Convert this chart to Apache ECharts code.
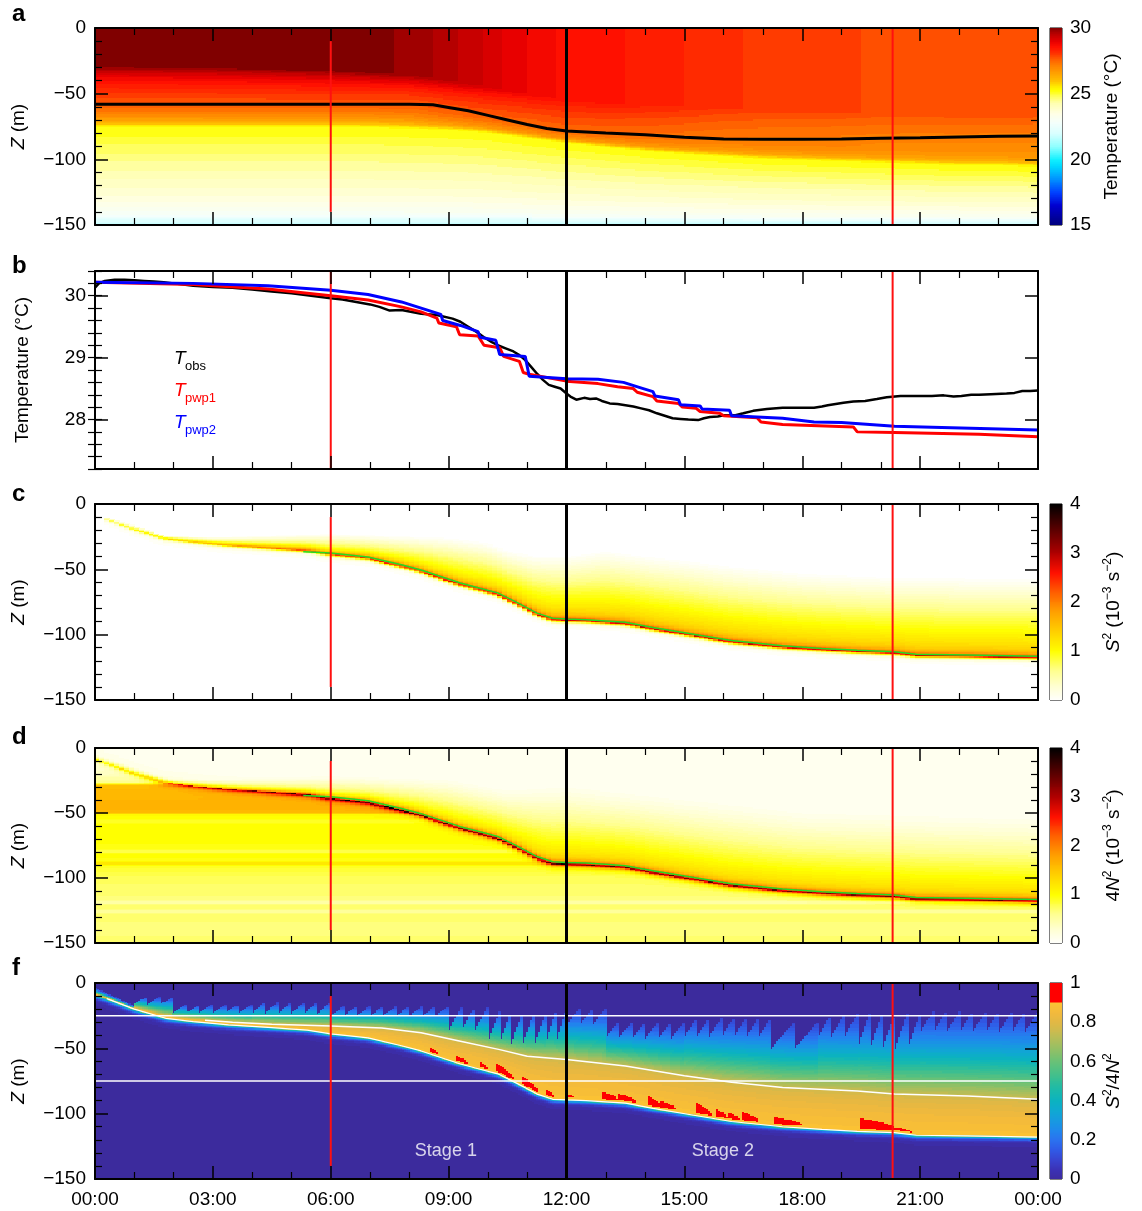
<!DOCTYPE html>
<html><head><meta charset="utf-8"><title>Ocean mixing panels</title>
<script src="https://cdn.jsdelivr.net/npm/echarts@6.0.0/dist/echarts.min.js"></script>
<style>html,body{margin:0;padding:0;background:#fff;}#chart{width:1142px;height:1211px;}</style>
</head><body><div id="chart"></div>
<script>
// ---------------- DATA ----------------
const hourLabels = ['00:00','03:00','06:00','09:00','12:00','15:00','18:00','21:00','00:00'];
const eventHours = [6, 12, 20.3];          // red, black, red vertical markers
const earlyLineSpan = [-10, -140];          // depth span of the 06:00 marker in the depth panels
const refDepths = [-25, -75];               // white reference depths in panel f

// panel a : mixed-layer depth (black line)
const mldLine = [[0,-58],[2,-58],[4,-58],[6,-58],[8,-58],[8.6,-58.5],[9,-60.5],[9.5,-63],[10,-66.5],[10.5,-70],[11,-73.5],[11.5,-76.5],[12,-78.5],[13,-80],[14,-81.3],[15,-83.2],[16,-84.5],[17,-84.8],[18,-84.8],[19,-84.5],[20,-84],[21,-83.6],[22,-83],[23,-82.5],[24,-82.2]];
// panel a : temperature structure
const fieldHours = [0,3,6,7,8,9,10,11,12,13,14,15,16,17,18,19,20,21,22,23,24];
const upperTemp  = [30.22,30.2,30.1,30.0,29.85,29.6,29.25,28.9,28.62,28.55,28.45,28.3,28.15,28.05,28.0,27.95,27.85,27.8,27.78,27.75,27.72];
const upperBase  = [-28,-29,-32,-34,-36,-40,-45,-50,-55,-57,-58,-60,-61,-62,-63,-64,-65,-66,-67,-68,-68];
const yellowTop  = [-76,-76,-76,-76,-77,-78,-80,-84,-88,-91,-94,-96,-98,-100,-101,-102,-103,-104,-105,-105,-106];
const gradFrac       = [0,0.1,0.2,0.3,0.4,0.5,0.6,0.7,0.8,0.9,1];
const gradShapeEarly = [1,0.86,0.74,0.66,0.6,0.55,0.5,0.44,0.36,0.24,0];
const gradShapeLate  = [1,0.93,0.88,0.83,0.79,0.75,0.71,0.68,0.6,0.45,0];
const deepDepth = [-75,-85,-95,-105,-115,-125,-135,-142,-146,-150];
const deepTemp  = [25.3,25.0,24.7,24.4,24.1,23.8,23.4,23.0,22.3,21.8];

// panel b : temperatures
const tObs = [[0,30.13],[0.1,30.2],[0.25,30.24],[0.5,30.26],[0.75,30.26],[1,30.25],[1.25,30.24],[1.5,30.23],[1.75,30.22],[2,30.2],[2.25,30.18],[2.5,30.16],[3,30.14],[3.5,30.13],[4,30.1],[4.5,30.07],[5,30.04],[5.5,30.0],[6,29.96],[6.3,29.94],[6.65,29.9],[7,29.86],[7.24,29.82],[7.5,29.76],[7.8,29.77],[8.3,29.71],[8.7,29.69],[9.1,29.63],[9.3,29.58],[9.5,29.5],[9.7,29.42],[9.9,29.33],[10.1,29.25],[10.25,29.2],[10.45,29.15],[10.65,29.1],[10.8,29.04],[10.95,28.96],[11.1,28.85],[11.25,28.74],[11.4,28.64],[11.55,28.56],[11.7,28.53],[11.85,28.5],[12,28.42],[12.1,28.37],[12.25,28.32],[12.45,28.35],[12.6,28.33],[12.75,28.34],[12.9,28.3],[13.1,28.26],[13.3,28.25],[13.5,28.23],[13.7,28.21],[13.9,28.18],[14.1,28.15],[14.3,28.1],[14.5,28.06],[14.7,28.02],[14.9,28.01],[15.1,28.0],[15.35,27.99],[15.5,28.02],[15.65,28.04],[15.85,28.05],[16,28.07],[16.3,28.07],[16.5,28.1],[16.75,28.14],[17.1,28.17],[17.5,28.19],[17.9,28.19],[18.3,28.19],[18.5,28.21],[18.65,28.23],[19.05,28.27],[19.3,28.29],[19.6,28.3],[19.9,28.33],[20.15,28.36],[20.5,28.38],[20.9,28.38],[21.3,28.38],[21.6,28.39],[21.85,28.37],[22.05,28.38],[22.3,28.4],[22.5,28.4],[22.8,28.41],[23.2,28.42],[23.4,28.43],[23.6,28.46],[23.8,28.46],[24,28.47]];
const tPwp1 = [[0,30.22],[2.5,30.18],[4.4,30.11],[6,30.0],[6.95,29.93],[7.8,29.82],[8.3,29.74],[8.7,29.64],[8.75,29.56],[9.2,29.5],[9.28,29.37],[9.75,29.35],[9.9,29.2],[10.3,29.16],[10.4,29.02],[10.8,28.94],[10.9,28.76],[11.05,28.73],[12,28.62],[12.8,28.58],[13.3,28.53],[13.7,28.5],[13.8,28.44],[14.2,28.37],[14.3,28.3],[14.85,28.26],[14.95,28.2],[15.3,28.18],[15.4,28.13],[15.9,28.1],[16.0,28.06],[16.85,28.03],[16.95,27.96],[17.5,27.92],[19.3,27.88],[19.4,27.8],[20.35,27.79],[22.5,27.76],[22.55,27.73],[24,27.72]];
const tPwp2 = [[0,30.22],[2.5,30.2],[4.4,30.16],[6,30.09],[6.95,30.02],[7.8,29.9],[8.3,29.8],[8.8,29.7],[8.85,29.6],[9.3,29.52],[9.75,29.42],[9.8,29.33],[10.2,29.28],[10.3,29.05],[10.95,29.02],[11.05,28.7],[12,28.66],[12.8,28.65],[13.45,28.6],[13.85,28.52],[14.2,28.45],[14.25,28.38],[14.85,28.32],[14.9,28.24],[15.4,28.22],[15.45,28.17],[16.15,28.15],[16.2,28.06],[17.5,28.02],[18.3,27.96],[19.0,27.95],[19.05,27.92],[20.35,27.89],[21.55,27.87],[21.6,27.84],[24,27.83]];

// panels c, d, f : base of the turbulent layer (peak shear line)
const mixBase = [[0,-9],[0.3,-12],[1,-20],[1.8,-27],[2.5,-29.5],[3.4,-32],[4.4,-34],[5.4,-36],[6,-39],[6.95,-42],[7.8,-48],[8.3,-52],[8.8,-57],[9.3,-62],[9.8,-66],[10.25,-69.5],[10.75,-77],[11.25,-85],[11.65,-89],[12,-89.5],[12.5,-90],[13,-91],[13.5,-92],[14.2,-96],[15.2,-101],[16.2,-106],[17.5,-110],[18.5,-112],[19.4,-113.5],[20.35,-114.5],[20.9,-116.5],[22.2,-117],[24,-118]];
const greenLine = [[5.3,-36.5],[6,-37.5],[6.95,-40.5],[7.8,-46.5],[8.3,-50.5],[8.8,-55.5],[9.3,-60.5],[9.8,-64.5],[10.25,-68],[10.75,-75.5],[11.25,-83.5],[11.65,-87.5],[12,-88],[12.5,-88.5],[13,-89.5],[13.5,-90.5],[14.2,-94.5],[15.2,-99.5],[16.2,-104.5],[17.5,-108.5],[18.5,-110.5],[19.4,-112],[20.35,-113],[20.9,-115],[22.2,-115.5],[24,-116.5]];
// panel c : S^2
const shearTop  = [[0,-8],[0.3,-11],[1,-17],[1.8,-25],[3,-26],[6,-23],[8,-25],[9,-26],[10,-30],[10.5,-36],[11.2,-40],[12,-40],[13,-36],[14,-40],[15,-43],[16,-47],[17,-50],[18,-53],[20.3,-56],[24,-57]];
const shearAmp  = [[0,0.4],[2,0.8],[5,1.2],[8,1.4],[12,1.5],[24,1.5]];
const shearPeak = [[0,0.3],[3,0.8],[6,1.2],[9,1.4],[24,1.4]];
// panel d : 4N^2
const buoyTop  = [[0,-5],[2,-25],[6,-22],[9,-25],[10.5,-33],[12,-30],[15,-40],[18,-50],[24,-55]];
const buoyAmp  = [[0,0.4],[3,0.7],[8,1.2],[12,1.3],[24,1.3]];
const buoyPeak = [[0,0.5],[3,1.1],[6,1.6],[24,1.7]];
const buoyProfile = [[0,0.12],[-10,0.2],[-20,0.35],[-27,0.6],[-29,1.55],[-35,1.6],[-45,1.65],[-50,1.6],[-51.5,1.05],[-55,1.0],[-57,0.85],[-59,1.0],[-70,1.0],[-78,0.95],[-80,0.75],[-82,1.0],[-87,0.95],[-89,1.3],[-91,0.9],[-95,0.85],[-100,0.75],[-110,0.7],[-117,0.65],[-119,0.45],[-121,0.7],[-124,0.7],[-126,0.5],[-128,0.7],[-140,0.65],[-150,0.7]];
// panel f : S^2/4N^2
const ratioTeeth = [ // [start h, end h, teeth, valley depth, tip depth]
  [0,1,1,-4,-18],[1,2,3,-17,-11],[2,4,6,-23,-17],[4,6,6,-24,-15],[6,9,9,-26,-18],[9,10,3,-37,-19],
  [10,11.5,5,-47,-22],[11.5,12,2,-45,-20],[12,13,3,-33,-20],[13,15,6,-43,-30],[15,17.2,7,-42,-27],
  [17.2,18.4,2,-51,-30],[18.4,19.4,3,-42,-24],[19.4,21,5,-51,-23],[21,24,9,-38,-22]];
const ratioContour = [[2.8,-28.5],[3.5,-30],[4.5,-31.5],[6,-33],[7.3,-34.5],[8.3,-38],[9.3,-44.5],[10.3,-51],[11,-56],[12,-58.5],[13.5,-63.5],[15,-71],[16.2,-76],[17.5,-80],[19.4,-82.6],[20.35,-85],[22.2,-86.4],[24,-89]];
const criticalPatches = [[8.55,8.75,3],[9.2,9.5,4],[9.8,10.0,4],[10.2,10.7,6],[10.9,11.3,6],[11.5,11.7,4],[12.0,12.2,3],[12.9,13.3,6],[13.3,13.8,5],[14.1,14.4,7],[14.4,14.8,5],[15.3,15.7,8],[15.8,16.1,6],[16.1,16.4,5],[16.5,16.9,6],[17.3,18.0,5],[19.5,20.4,8],[20.4,20.8,2.5]];
const stageLabels = [{name:'Stage 1', t:8.93, z:-128.5},{name:'Stage 2', t:15.98, z:-128.5}];

// ---------------- helpers ----------------
const FONT = '"Liberation Sans", Arial, Helvetica, sans-serif';
function lin(p, x){
  const n=p.length, asc=p[n-1][0]>=p[0][0];
  if(asc? x<=p[0][0] : x>=p[0][0]) return p[0][1];
  if(asc? x>=p[n-1][0] : x<=p[n-1][0]) return p[n-1][1];
  for(let i=1;i<n;i++){
    const x0=p[i-1][0], x1=p[i][0];
    if(asc? x<=x1 : x>=x1){ const f=(x-x0)/(x1-x0); return p[i-1][1]+f*(p[i][1]-p[i-1][1]); }
  }
  return p[n-1][1];
}
const zip=(a,b)=>a.map((v,i)=>[v,b[i]]);
const upperTempP=zip(fieldHours,upperTemp), upperBaseP=zip(fieldHours,upperBase), yellowTopP=zip(fieldHours,yellowTop);
const shapeEarlyP=zip(gradFrac,gradShapeEarly), shapeLateP=zip(gradFrac,gradShapeLate), deepP=zip(deepDepth,deepTemp);

function hex2rgb(h){return [parseInt(h.slice(1,3),16),parseInt(h.slice(3,5),16),parseInt(h.slice(5,7),16)];}
function rgb2hex(c){return '#'+c.map(v=>Math.max(0,Math.min(255,Math.round(v))).toString(16).padStart(2,'0')).join('');}
function rampColors(stops,min,max,n){
  const out=[];
  for(let i=0;i<n;i++){
    const v=min+(max-min)*i/(n-1);
    let j=1; while(j<stops.length-1 && v>stops[j][0]) j++;
    const a=stops[j-1], b=stops[j];
    let f=(v-a[0])/(b[0]-a[0]); f=Math.max(0,Math.min(1,f));
    const ca=hex2rgb(a[1]), cb=hex2rgb(b[1]);
    out.push(rgb2hex(ca.map((x,k)=>x+(cb[k]-x)*f)));
  }
  return out;
}
const tempColors = rampColors([[15,'#00007a'],[16.5,'#0000d0'],[17.5,'#0040ff'],[18.5,'#0090ff'],[19.5,'#00d8ff'],[20,'#10f0ff'],[21,'#90ffff'],[22,'#d8ffff'],[22.8,'#f4fffc'],[23.5,'#ffffe6'],[24.3,'#ffffb0'],[24.8,'#ffff60'],[25.3,'#ffff00'],[25.6,'#ffe800'],[26,'#ffc000'],[26.6,'#ffa000'],[27.2,'#ff8000'],[27.7,'#ff5a00'],[28.1,'#ff3000'],[28.6,'#ff1000'],[29,'#e80000'],[29.5,'#c00000'],[29.8,'#a00000'],[30,'#800000']],15,30,151);
const hotColors = rampColors([[0,'#ffffff'],[0.3,'#ffffd0'],[0.6,'#ffff90'],[1,'#ffff00'],[1.4,'#ffd000'],[1.8,'#ffa000'],[2.2,'#ff6000'],[2.6,'#ff1000'],[3,'#b00000'],[3.5,'#580000'],[4,'#000000']],0,4,161);
const FBG = '#3c2b9d';
const ratioColors = rampColors([[0,FBG],[0.05,'#3b31b5'],[0.1,'#3844d0'],[0.15,'#2f5ae6'],[0.2,'#2a72ef'],[0.25,'#1f88ec'],[0.3,'#1799e0'],[0.35,'#0fa8d2'],[0.4,'#0bb2c0'],[0.45,'#19b9ac'],[0.5,'#30bd98'],[0.55,'#4bc086'],[0.6,'#68c177'],[0.65,'#8ac068'],[0.7,'#aabe5c'],[0.75,'#c8bb50'],[0.8,'#e0b845'],[0.85,'#f2b93c'],[0.9,'#fbc234'],[0.9001,'#ff0000'],[1,'#ff0000']],0,1,201);

// ---------------- field models built from the arrays ----------------
function tempAt(t,z){
  const Ts=lin(upperTempP,t), zt=lin(upperBaseP,t), zb=lin(yellowTopP,t);
  if(z>=zt) return Ts;
  if(z>=zb){
    const s=(zt-z)/(zt-zb), w=Math.max(0,Math.min(1,(t-8)/4));
    const f=lin(shapeEarlyP,s)*(1-w)+lin(shapeLateP,s)*w;
    return 25.3+(Ts-25.3)*f;
  }
  return lin(deepP,-75-(zb-z)*75/(zb+150));
}
function shearAt(t,z){
  if(t<0.25) return 0;
  const h=lin(mixBase,t), top=lin(shearTop,t), a=lin(shearAmp,t), pk=lin(shearPeak,t);
  if(z>=h){ if(z>top) return 0; const s=(top-z)/Math.max(0.5,top-h); return a*s+pk*Math.exp(-(z-h)/2); }
  return (a+pk)*Math.exp(-(h-z)/1.2);
}
function buoyAt(t,z){
  const h=lin(mixBase,t), top=lin(buoyTop,t), a=lin(buoyAmp,t), pk=lin(buoyPeak,t);
  if(z>=h){ const s=z>top?0:(top-z)/Math.max(0.5,top-h); return 0.12+a*Math.pow(s,1.2)+pk*Math.exp(-(z-h)/1.8); }
  return lin(buoyProfile,z)+(a+pk)*Math.exp(-(h-z)/1.5);
}
function ratioTopAt(t){
  for(const s of ratioTeeth){
    if(t>=s[0] && t<s[1]){
      if(s[2]===1){ const f=(t-s[0])/(s[1]-s[0]); const top=s[3]+(s[4]-s[3])*f; return {top, env:top}; }
      const u=(t-s[0])/(s[1]-s[0])*s[2]; const f=u-Math.floor(u);
      return {top:s[3]+(s[4]-s[3])*f, env:s[4]};
    }
  }
  return {top:-22, env:-22};
}
function ratioAt(t,z){
  const h=lin(mixBase,t), tp=ratioTopAt(t);
  if(z>tp.top) return 0;
  if(z>=h){
    const env=tp.env;
    let sw=(env-lin(ratioContour,t))/(env-h); sw=Math.max(0.2,Math.min(0.85,sw));
    const s=Math.max(0,(env-z)/(env-h));
    let v = s<sw ? 0.1+0.65*Math.pow(s/sw,1.3) : 0.75+0.15*Math.pow((s-sw)/(1-sw),0.6);
    for(const p of criticalPatches){
      if(t>=p[0] && t<p[1]){ const th=p[2]*Math.pow(1-(t-p[0])/(p[1]-p[0]),0.4); if(z>=h+1.5 && z<=h+1.5+th) v=1; }
    }
    return v;
  }
  return 0.88*Math.exp(-(h-z)/1.6);
}
function buildCells(fn,quant,skip,NT){
  const out=[], DT=24/NT, NZ=150, DZ=1;
  for(let i=0;i<NT;i++){
    const t=(i+0.5)*DT; let rv=null, rHi=0;
    for(let k=0;k<=NZ;k++){
      const v = k<NZ ? quant(fn(t,-(k+0.5)*DZ)) : NaN;
      if(rv===null){ rv=v; rHi=0; continue; }
      if(v!==rv){
        const rLo=-k*DZ;
        if(!(skip!=null && rv<skip)) out.push([t,(rHi+rLo)/2,rv,t-DT/2,t+DT/2,rHi,rLo]);
        rv=v; rHi=-k*DZ;
      }
    }
  }
  return out;
}
function barCells(min,max,n){
  const out=[], st=(max-min)/n;
  for(let i=0;i<n;i++){ const v=min+(i+0.5)*st; out.push([0.5,v,v,0,1,v+st/2,v-st/2]); }
  return out;
}
const cellsA = buildCells(tempAt, v=>Math.max(15,Math.min(30,Math.round(v*5)/5)), null, 192);
const cellsC = buildCells(shearAt, v=>Math.min(4,Math.round(v*20)/20), 0.04, 192);
const cellsD = buildCells(buoyAt, v=>Math.min(4,Math.round(v*20)/20), null, 192);
const cellsF = buildCells(ratioAt, v=>v>0.905?1:Math.round(v*50)/50, 0.02, 472);

function renderCell(params, api){
  const p0=api.coord([api.value(3),api.value(5)]), p1=api.coord([api.value(4),api.value(6)]);
  const x0=Math.floor(p0[0]), x1=Math.ceil(p1[0]), y0=Math.floor(p0[1]), y1=Math.ceil(p1[1]);
  return {type:'rect', shape:{x:x0,y:y0,width:x1-x0,height:y1-y0}, style:{fill:api.visual('color')}};
}

// ---------------- layout ----------------
const PL=95, PW=943, CBL=1050, CBW=12;
const boxes=[[28,197],[271,198],[504,196],[748,195],[983,196]];
const grids = boxes.map((b,i)=>({left:PL, top:b[0], width:PW, height:b[1], show:i===4, backgroundColor:i===4?FBG:'transparent', borderWidth:0, outerBoundsMode:'none', containLabel:false}));
const cbPanels=[0,2,3,4];
cbPanels.forEach(p=>grids.push({left:CBL, top:boxes[p][0], width:CBW, height:boxes[p][1], show:true, borderColor:'#000', borderWidth:1, backgroundColor:'#fff', outerBoundsMode:'none', containLabel:false}));

const lineAx = {show:true, onZero:false, lineStyle:{color:'#000', width:2}};
const tickMaj = {show:true, inside:true, length:13, lineStyle:{color:'#000', width:1.5}};
const labelStyle = {fontSize:19, color:'#000', fontFamily:FONT};
const xAxes=[], yAxes=[];
boxes.forEach((b,p)=>{
  const common={type:'value', gridIndex:p, min:0, max:24, interval:3, z:10, axisLine:lineAx, axisTick:tickMaj,
    minorTick:{show:true, splitNumber:3, length:7, lineStyle:{color:'#000', width:1.2}}, splitLine:{show:false}, minorSplitLine:{show:false}};
  xAxes.push(Object.assign({}, common, {position:'bottom', axisLabel:Object.assign({show:p===4, margin:11, showMinLabel:true, showMaxLabel:true, formatter:v=>hourLabels[Math.round(v/3)]}, labelStyle)}));
  xAxes.push(Object.assign({}, common, {position:'top', axisLabel:{show:false}}));
});
const nameRich = {i:{fontStyle:'italic', fontSize:19, fontFamily:FONT, color:'#000', lineHeight:24}, n:{fontSize:19, fontFamily:FONT, color:'#000', lineHeight:24}, sup:{fontSize:12, fontFamily:FONT, color:'#000', lineHeight:12, verticalAlign:'top'}};
boxes.forEach((b,p)=>{
  if(p===1){
    const maj={type:'value', gridIndex:1, min:27.2, max:30.4, z:10, axisLine:lineAx, axisTick:Object.assign({customValues:[28,29,30]},tickMaj), splitLine:{show:false}};
    yAxes.push(Object.assign({}, maj, {position:'left', axisLabel:Object.assign({customValues:[28,29,30], margin:9}, labelStyle),
      name:'Temperature (°C)', nameLocation:'middle', nameGap:63, nameRotate:90, nameTextStyle:{fontSize:19, fontFamily:FONT, color:'#000'}}));
    yAxes.push(Object.assign({}, maj, {position:'right', axisLabel:{show:false}}));
  } else {
    const common={type:'value', gridIndex:p, min:-150, max:0, interval:50, z:10, axisLine:lineAx, axisTick:tickMaj,
      minorTick:{show:true, splitNumber:5, length:7, lineStyle:{color:'#000', width:1.2}}, splitLine:{show:false}, minorSplitLine:{show:false}};
    yAxes.push(Object.assign({}, common, {position:'left', axisLabel:Object.assign({margin:9, formatter:v=>(v<0?'\u2212':'')+Math.abs(v)}, labelStyle),
      name:'{i|Z}{n| (m)}', nameLocation:'middle', nameGap:64, nameRotate:90, nameTextStyle:{fontSize:19, fontFamily:FONT, color:'#000', rich:nameRich}}));
    yAxes.push(Object.assign({}, common, {position:'right', axisLabel:{show:false}}));
  }
});
// minor 0.2 ticks for panel b (indices 10, 11)
['left','right'].forEach(pos=>yAxes.push({type:'value', gridIndex:1, position:pos, min:27.2, max:30.4, interval:0.2, z:10,
  axisLine:{show:false}, axisTick:{show:true, inside:true, length:7, lineStyle:{color:'#000', width:1.2}}, axisLabel:{show:false}, splitLine:{show:false}}));
// colour bars (x 10..13, y 12..15)
const cbDefs = [
  {min:15, max:30, interval:5, name:'Temperature (°C)', fmt:v=>String(v)},
  {min:0, max:4, interval:1, name:'{i|S}{sup|2}{n| (10}{sup|\u22123}{n| s}{sup|\u22122}{n|)}', fmt:v=>String(v)},
  {min:0, max:4, interval:1, name:'{n|4}{i|N}{sup|2}{n| (10}{sup|\u22123}{n| s}{sup|\u22122}{n|)}', fmt:v=>String(v)},
  {min:0, max:1, interval:0.2, name:'{i|S}{sup|2}{n|/4}{i|N}{sup|2}', fmt:v=>(v===0||v===1)?String(v):v.toFixed(1)}
];
cbDefs.forEach((c,k)=>{
  xAxes.push({type:'value', gridIndex:5+k, min:0, max:1, show:false});
  yAxes.push({type:'value', gridIndex:5+k, position:'right', min:c.min, max:c.max, interval:c.interval, z:10,
    axisLine:{show:false}, axisTick:{show:false}, splitLine:{show:false},
    axisLabel:Object.assign({margin:8, formatter:c.fmt, showMinLabel:true, showMaxLabel:true}, labelStyle),
    name:c.name, nameLocation:'middle', nameGap:40, nameRotate:90, nameTextStyle:{fontSize:19, fontFamily:FONT, color:'#000', rich:nameRich}});
});

// ---------------- series ----------------
const series=[];
const add=s=>{series.push(Object.assign({silent:true, animation:false}, s)); return series.length-1;};
const cellSeries=(p,data,xi,yi)=>add({type:'custom', coordinateSystem:'cartesian2d', xAxisIndex:xi, yAxisIndex:yi, data, renderItem:renderCell,
  encode:{x:0,y:1}, dimensions:['t','z','v','x0','x1','y0','y1'], clip:true, progressive:0, z:1});
const lineSeries=(xi,yi,data,color,width,z)=>add({type:'line', xAxisIndex:xi, yAxisIndex:yi, data, showSymbol:false, symbol:'none',
  lineStyle:{color, width}, z:z||4});

const heatPanels=[{p:0,cells:cellsA,cb:0,colors:tempColors,min:15,max:30,bar:barCells(15,30,300)},
                  {p:2,cells:cellsC,cb:1,colors:hotColors,min:0,max:4,bar:barCells(0,4,200)},
                  {p:3,cells:cellsD,cb:2,colors:hotColors,min:0,max:4,bar:barCells(0,4,200)},
                  {p:4,cells:cellsF,cb:3,colors:ratioColors,min:0,max:1,bar:barCells(0,1,200)}];
const visualMaps=[];
heatPanels.forEach(h=>{
  const s1=cellSeries(h.p,h.cells,2*h.p,2*h.p);
  const s2=cellSeries(h.p,h.bar,10+h.cb,12+h.cb);
  visualMaps.push({type:'continuous', show:false, seriesIndex:[s1,s2], dimension:2, min:h.min, max:h.max, inRange:{color:h.colors}});
});
// panel a lines
lineSeries(0,0,mldLine,'#000',3,3);
// panel b temperatures
lineSeries(2,2,tObs,'#000',2.5,3);
lineSeries(2,2,tPwp1,'#ff0000',3,3);
lineSeries(2,2,tPwp2,'#0000ff',3,3);
// green lines c, d
lineSeries(4,4,greenLine,'#22dd22',1.5,3);
lineSeries(6,6,greenLine,'#22dd22',1.5,3);
// panel f white lines
lineSeries(8,8,mixBase.filter(p=>p[0]>=0.3),'#ffffff',1.2,3);
lineSeries(8,8,ratioContour,'#ffffff',1.5,3);
refDepths.forEach(d=>lineSeries(8,8,[[0,d],[24,d]],'#ffffff',1.5,3));
// event markers
[0,1,2,3,4].forEach(p=>{
  const lo = p===1?27.2:-150, hi = p===1?30.4:0;
  const early = p===1?[[eventHours[0],lo],[eventHours[0],hi]]:[[eventHours[0],earlyLineSpan[0]],[eventHours[0],earlyLineSpan[1]]];
  lineSeries(2*p,2*p,early,'#ff1010',2,6);
  lineSeries(2*p,2*p,[[eventHours[1],lo],[eventHours[1],hi]],'#000',3,6);
  lineSeries(2*p,2*p,[[eventHours[2],lo],[eventHours[2],hi]],'#ff1010',2,6);
});
// stage labels
add({type:'scatter', xAxisIndex:8, yAxisIndex:8, symbolSize:0, z:7,
  data:stageLabels.map(s=>({name:s.name, value:[s.t,s.z]})),
  label:{show:true, position:'inside', formatter:'{b}', color:'#fff', fontSize:18, fontFamily:FONT}});

// ---------------- text: panel letters and legend ----------------
const letters=[['a',26],['b',278],['c',506],['d',749],['f',980]];
const graphic=letters.map(l=>({type:'text', x:12, y:l[1], style:{text:l[0], fontSize:24, fontWeight:'bold', fontFamily:FONT, fill:'#000', verticalAlign:'bottom'}}));
[['obs','#000',368],['pwp1','#ff0000',400],['pwp2','#0000ff',432]].forEach(l=>{
  graphic.push({type:'text', x:174, y:l[2], style:{text:'T', fontSize:19, fontStyle:'italic', fontFamily:FONT, fill:l[1], verticalAlign:'bottom'}});
  graphic.push({type:'text', x:185, y:l[2]+5, style:{text:l[0], fontSize:13, fontFamily:FONT, fill:l[1], verticalAlign:'bottom'}});
});

const option={animation:false, backgroundColor:'#fff', textStyle:{fontFamily:FONT},
  grid:grids, xAxis:xAxes, yAxis:yAxes, visualMap:visualMaps, series, graphic};
const chart=echarts.init(document.getElementById('chart'), null, {renderer:'canvas'});
chart.setOption(option);
</script></body></html>
